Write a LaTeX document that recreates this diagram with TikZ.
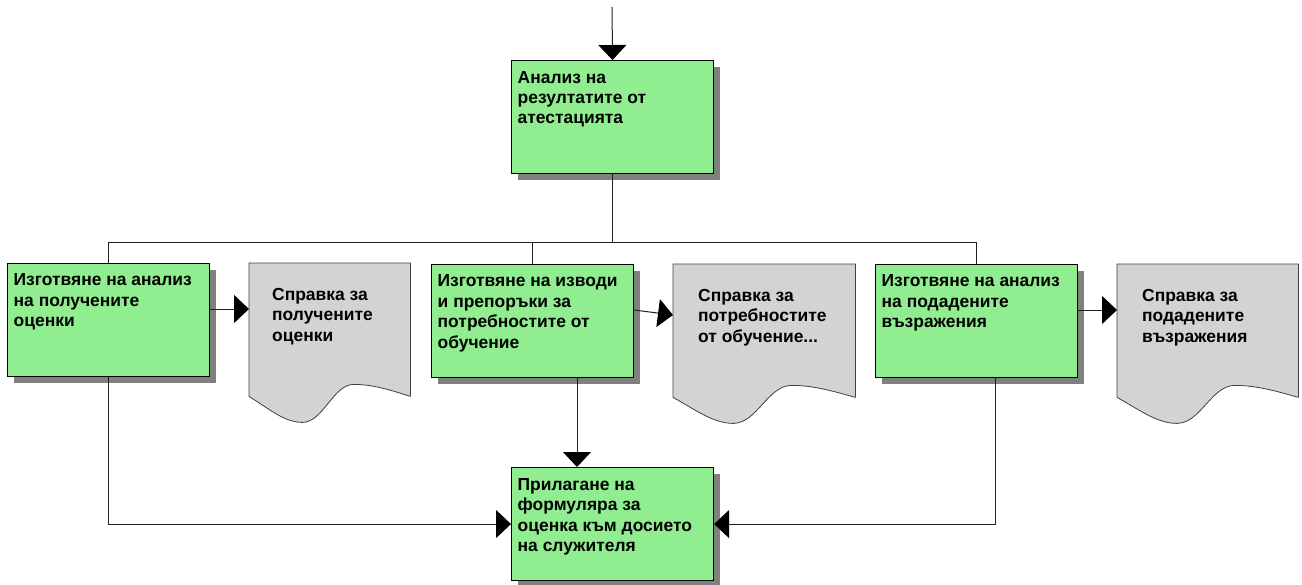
\documentclass[tikz,border=0pt]{standalone}
\usepackage{fontspec}
\setmainfont{Liberation Sans}
\usetikzlibrary{arrows.meta,calc,shadows}
\definecolor{taskgreen}{HTML}{90EE90}
\definecolor{docgray}{HTML}{D3D3D3}
\definecolor{shadowgray}{HTML}{808080}
\definecolor{linegray}{HTML}{202020}

% Document symbol: straight top and sides, wavy bottom edge
\newcommand\docoutline[1]{%
  \draw[docline] (#1.south east) -- (#1.north east) -- (#1.north west) -- (#1.south west)
    .. controls ($(#1.south west)!0.12!(#1.south east)+(0,12)$) and ($(#1.south west)!0.22!(#1.south east)+(0,26)$)
    .. ($(#1.south west)!0.33!(#1.south east)+(0,26)$)
    .. controls ($(#1.south west)!0.46!(#1.south east)+(0,26)$) and ($(#1.south west)!0.52!(#1.south east)+(0,-12)$)
    .. ($(#1.south west)!0.65!(#1.south east)+(0,-12)$)
    .. controls ($(#1.south west)!0.78!(#1.south east)+(0,-12)$) and ($(#1.south west)!0.90!(#1.south east)+(0,-5)$)
    .. (#1.south east);%
}

\begin{document}
\begin{tikzpicture}[x=1bp,y=-1bp,
  task/.style={draw=black, line width=1.1bp, fill=taskgreen, minimum width=202bp,
    minimum height=113bp, inner sep=0pt, anchor=north west,
    general shadow={fill=shadowgray, shadow xshift=6bp, shadow yshift=-6bp}},
  docarea/.style={inner sep=0pt, anchor=north west, minimum height=133bp},
  docline/.style={draw=black!75, line width=0.8bp, fill=docgray},
  % anchored at the baseline of the last line; lines are 20.5bp apart
  caption/.style={anchor=base west, align=left, inner sep=0pt,
    font=\fontsize{17.5}{20.5}\selectfont\bfseries},
  link/.style={draw=linegray, line width=1bp},
  arr/.style={link, -{Triangle[length=15bp,width=28bp,color=black]}},
]
\useasboundingbox (0,0) rectangle (1302,585);

% process boxes
\node[task] (tbox) at (511,60) {};
\node[task] (lbox) at (7,263) {};
\node[task] (mbox) at (431,264) {};
\node[task] (rbox) at (875,264) {};
\node[task] (bbox) at (511,467) {};

% document symbols
\node[docarea, minimum width=161bp] (ldoc) at (249,263) {};
\node[docarea, minimum width=182bp] (mdoc) at (673,264) {};
\node[docarea, minimum width=181bp] (rdoc) at (1117,264) {};
\docoutline{ldoc}
\docoutline{mdoc}
\docoutline{rdoc}

% texts (three-line captions: 23+41, four-line captions: 23+61.5)
\node[caption] (ttext) at ($(tbox.north west)+(6.5,64)$) {Анализ на\\резултатите от\\атестацията};
\node[caption] (ltext) at ($(lbox.north west)+(6.5,63.5)$) {Изготвяне на анализ\\на получените\\оценки};
\node[caption] (mtext) at ($(mbox.north west)+(6.5,84)$) {Изготвяне на изводи\\и препоръки за\\потребностите от\\обучение};
\node[caption] (rtext) at ($(rbox.north west)+(6.5,63.5)$) {Изготвяне на анализ\\на подадените\\възражения};
\node[caption] (btext) at ($(bbox.north west)+(6.5,84.5)$) {Прилагане на\\формуляра за\\оценка към досието\\на служителя};
\node[caption] (ldtext) at ($(ldoc.north west)+(23,78)$) {Справка за\\получените\\оценки};
\node[caption] (mdtext) at ($(mdoc.north west)+(25,78)$) {Справка за\\потребностите\\от обучение...};
\node[caption] (rdtext) at ($(rdoc.north west)+(25,78)$) {Справка за\\подадените\\възражения};

% incoming flow
\coordinate (entry) at (612,7);
\draw[arr] (entry) -- (tbox.north);

% branching to the three analysis steps
\draw[link] (tbox.south) -- ++(0,68) -| (lbox.north);
\draw[link] (tbox.south) -- ++(0,68) -| (mbox.north);
\draw[link] (tbox.south) -- ++(0,68) -| (rbox.north);

% outputs to documents
\draw[arr] ($(lbox.north east)+(0,46)$) -- ($(ldoc.north west)+(0,46)$);
\draw[arr] ($(mbox.north east)+(0,46)$) -- ($(mdoc.north west)+(0,51)$);
\draw[arr] ($(rbox.north east)+(0,46)$) -- ($(rdoc.north west)+(0,46)$);

% merging into the final step
\draw[arr] ($(mbox.south west)+(146,0)$) coordinate (mdown) -- (mdown |- bbox.north);
\draw[arr] (lbox.south) |- (bbox.west);
\draw[arr] ($(rbox.south west)+(120,0)$) |- (bbox.east);
\end{tikzpicture}
\end{document}
